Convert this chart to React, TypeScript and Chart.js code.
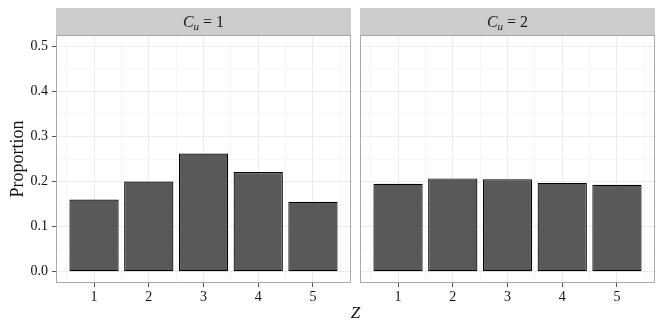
import React, { useEffect, useRef } from "react";
import { Chart, registerables } from "chart.js";

Chart.register(...registerables);

const zValues = [1, 2, 3, 4, 5];
const proportionsCu1 = [0.16, 0.2, 0.262, 0.221, 0.155];
const proportionsCu2 = [0.195, 0.207, 0.205, 0.197, 0.193];
const yTickValues = [0.0, 0.1, 0.2, 0.3, 0.4, 0.5];
const panelLabels = ["1", "2"];
const yTitle = "Proportion";
const xTitle = "Z";

const FONT = "'Liberation Serif', 'DejaVu Serif', serif";
const W = 664;
const H = 332;

function tickVal(c: any): number {
  return c && c.tick && typeof c.tick.value === "number" ? c.tick.value : NaN;
}
function isMajorY(v: number) {
  return yTickValues.some((t) => Math.abs(t - v) < 1e-6);
}
function isInt(v: number) {
  return Number.isFinite(v) && Math.abs(v - Math.round(v)) < 1e-6;
}

function makeConfig(panel: number): any {
  const values = panel === 0 ? proportionsCu1 : proportionsCu2;
  const label = panelLabels[panel];
  const isFirst = panel === 0;
  const padLeft = isFirst ? 0 : 360;
  const padRight = isFirst ? W - 351 : W - 655;

  const decor = {
    id: "decor" + panel,
    beforeDraw(chart: any) {
      const { ctx, chartArea } = chart;
      const { left, right } = chartArea;
      ctx.save();
      ctx.fillStyle = "#CCCCCC";
      ctx.fillRect(left, 8, right - left, chartArea.top - 8);
      const cx = (left + right) / 2;
      const cy = 22;
      ctx.fillStyle = "#1a1a1a";
      ctx.textBaseline = "alphabetic";
      const fC = "italic 16px " + FONT;
      const fU = "italic 11px " + FONT;
      const fR = "16px " + FONT;
      ctx.font = fC;
      const wC = ctx.measureText("C").width;
      ctx.font = fU;
      const wU = ctx.measureText("u").width;
      ctx.font = fR;
      const rest = " = " + label;
      const wR = ctx.measureText(rest).width;
      const total = wC + wU + wR;
      let x = cx - total / 2;
      const base = cy + 5;
      ctx.font = fC;
      ctx.fillText("C", x, base);
      x += wC;
      ctx.font = fU;
      ctx.fillText("u", x, base + 2.5);
      x += wU;
      ctx.font = fR;
      ctx.fillText(rest, x, base);
      ctx.restore();
    },
    afterDraw(chart: any) {
      const { ctx, chartArea } = chart;
      const { left, right, top, bottom } = chartArea;
      ctx.save();
      ctx.strokeStyle = "#A8A8A8";
      ctx.lineWidth = 1;
      ctx.strokeRect(left + 0.5, top + 0.5, right - left - 1, bottom - top - 1);
      if (isFirst) {
        ctx.fillStyle = "#111";
        ctx.textAlign = "center";
        ctx.textBaseline = "middle";
        ctx.font = "18px " + FONT;
        ctx.translate(18, (top + bottom) / 2);
        ctx.rotate(-Math.PI / 2);
        ctx.fillText(yTitle, 0, 0);
        ctx.setTransform(1, 0, 0, 1, 0, 0);
        ctx.font = "italic 17px " + FONT;
        ctx.fillText(xTitle, 355.5, 314);
      }
      ctx.restore();
    },
  };

  return {
    type: "bar",
    data: {
      datasets: [
        {
          data: zValues.map((z, i) => ({ x: z, y: values[i] })),
          backgroundColor: "#595959",
          borderColor: "#000000",
          borderWidth: 1.2,
          borderSkipped: false,
          // ruler uses the half-step grid ticks, so 1.8 of half a step = 0.9 of a unit
          barPercentage: 1.8,
          categoryPercentage: 1,
        },
      ],
    },
    options: {
      animation: false,
      responsive: false,
      events: [],
      layout: { padding: { top: 35, left: padLeft, right: padRight, bottom: 0 } },
      plugins: {
        legend: { display: false },
        tooltip: { enabled: false },
        title: { display: false },
      },
      scales: {
        x: {
          type: "linear",
          offset: false,
          min: 0.305,
          max: 5.695,
          afterBuildTicks(scale: any) {
            const t: any[] = [];
            for (let i = 0; i <= 10; i++) t.push({ value: 0.5 + i * 0.5 });
            scale.ticks = t;
          },
          afterFit(scale: any) {
            scale.height = H - 283;
          },
          border: { display: false },
          grid: {
            offset: false,
            color: (c: any) => (isInt(tickVal(c)) ? "#EBEBEB" : "#F6F6F6"),
            tickColor: (c: any) => (isInt(tickVal(c)) ? "#555555" : "rgba(0,0,0,0)"),
            tickLength: 4,
            lineWidth: 1,
          },
          ticks: {
            autoSkip: false,
            maxRotation: 0,
            padding: 2,
            color: "#111111",
            font: { family: FONT, size: 14 },
            callback: (v: number) => (isInt(v) ? String(Math.round(v)) : ""),
          },
        },
        y: {
          min: -0.025,
          max: 0.525,
          afterBuildTicks(scale: any) {
            const t: any[] = [];
            for (let i = 0; i <= 10; i++) t.push({ value: i * 0.05 });
            scale.ticks = t;
          },
          afterFit(scale: any) {
            scale.width = isFirst ? 56 : 0;
          },
          border: { display: false },
          grid: {
            color: (c: any) => (isMajorY(tickVal(c)) ? "#EBEBEB" : "#F6F6F6"),
            tickColor: (c: any) =>
              isFirst && isMajorY(tickVal(c)) ? "#555555" : "rgba(0,0,0,0)",
            drawTicks: isFirst,
            tickLength: 4,
            lineWidth: 1,
          },
          ticks: {
            display: isFirst,
            autoSkip: false,
            padding: 4,
            color: "#111111",
            font: { family: FONT, size: 14 },
            callback: (v: number) => (isMajorY(v) ? v.toFixed(1) : ""),
          },
        },
      },
    },
    plugins: [decor],
  };
}

function Panel({ index }: { index: number }) {
  const ref = useRef<HTMLCanvasElement | null>(null);
  useEffect(() => {
    if (!ref.current) return;
    const chart = new Chart(ref.current, makeConfig(index));
    return () => chart.destroy();
  }, [index]);
  return (
    <canvas
      ref={ref}
      width={W}
      height={H}
      style={{ position: "absolute", left: 0, top: 0, width: W, height: H }}
    />
  );
}

export default function App() {
  return (
    <div
      style={{
        position: "fixed",
        left: 0,
        top: 0,
        width: W,
        height: H,
        background: "#ffffff",
        overflow: "hidden",
      }}
    >
      <Panel index={0} />
      <Panel index={1} />
    </div>
  );
}
